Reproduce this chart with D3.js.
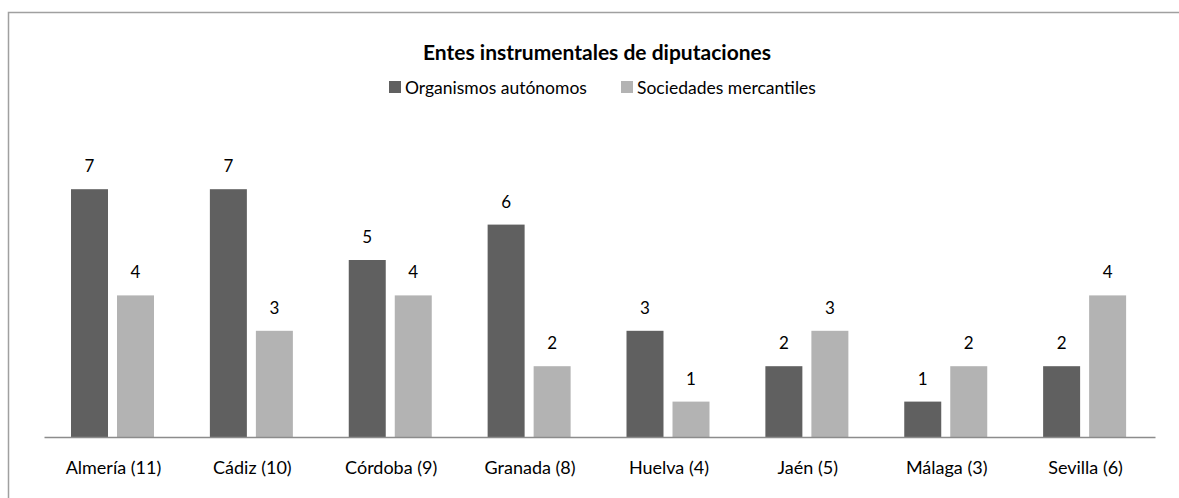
<!DOCTYPE html>
<html>
<head>
<meta charset="utf-8">
<script src="https://cdn.jsdelivr.net/npm/d3@7"></script>
<style>
	body { margin: 0; background: #fff; }
	svg text { font-family: Lato, "Open Sans", sans-serif; fill: #000; }
</style>
</head>
<body>
<svg id="chart" width="1179" height="498"></svg>
<script>
var categories = ['Almería (11)', 'Cádiz (10)', 'Córdoba (9)', 'Granada (8)', 'Huelva (4)', 'Jaén (5)', 'Málaga (3)', 'Sevilla (6)'];
var seriesNames = ['Organismos autónomos', 'Sociedades mercantiles'];
var organismos = [7, 7, 5, 6, 3, 2, 1, 2];
var sociedades = [4, 3, 4, 2, 1, 3, 2, 4];
var colors = ['#606060', '#b3b3b3'];

var svg = d3.select('#chart');

var params = {
	left: 44,
	right: 1155,
	baseline: 437,
	unit: 35.4
};

// outer frame (runs off the right and bottom edges)
svg.append('rect')
	.attr('x', 8.5).attr('y', 12.5)
	.attr('width', 1200).attr('height', 500)
	.attr('fill', 'none')
	.attr('stroke', '#a0a0a0')
	.attr('stroke-width', 1.5);

svg.append('text')
	.attr('x', 597).attr('y', 60)
	.attr('text-anchor', 'middle')
	.style('font-size', '21px')
	.style('font-weight', 'bold')
	.text('Entes instrumentales de diputaciones');

var xScale = d3.scaleBand()
	.domain(categories)
	.range([params.left, params.right]);

var inner = d3.scaleBand()
	.domain([0, 1])
	.range([27, 110])
	.paddingInner(0.196);

var yScale = d3.scaleLinear()
	.domain([0, 8])
	.range([params.baseline, params.baseline - 8 * params.unit]);

var rows = [];
categories.forEach(function(c, i) {
	rows.push({ cat: c, s: 0, v: organismos[i] });
	rows.push({ cat: c, s: 1, v: sociedades[i] });
});

var bars = svg.append('g');
bars.selectAll('rect').data(rows).enter().append('rect')
	.attr('x', function(d) { return xScale(d.cat) + inner(d.s); })
	.attr('y', function(d) { return yScale(d.v); })
	.attr('width', inner.bandwidth())
	.attr('height', function(d) { return yScale(0) - yScale(d.v); })
	.attr('fill', function(d) { return colors[d.s]; });

bars.selectAll('text').data(rows).enter().append('text')
	.attr('x', function(d) { return xScale(d.cat) + inner(d.s) + inner.bandwidth() / 2; })
	.attr('y', function(d) { return yScale(d.v) - 17; })
	.attr('text-anchor', 'middle')
	.style('font-size', '17px')
	.text(function(d) { return d.v; });

var axis = svg.append('g')
	.attr('transform', 'translate(0,' + params.baseline + ')')
	.call(d3.axisBottom(xScale).tickSize(0).tickPadding(24));
axis.select('.domain').attr('stroke', '#8c8c8c').attr('stroke-width', 1.5);
axis.selectAll('.tick text')
	.style('font-size', '18px')
	.style('font-family', 'Lato, "Open Sans", sans-serif')
	.attr('fill', '#000');

// legend
var legendX = [389, 621];
var legend = svg.append('g');
seriesNames.forEach(function(name, i) {
	legend.append('rect')
		.attr('x', legendX[i]).attr('y', 81)
		.attr('width', 12).attr('height', 12)
		.attr('fill', colors[i]);
	legend.append('text')
		.attr('x', legendX[i] + 16).attr('y', 94)
		.style('font-size', '17.5px')
		.text(name);
});
</script>
</body>
</html>
